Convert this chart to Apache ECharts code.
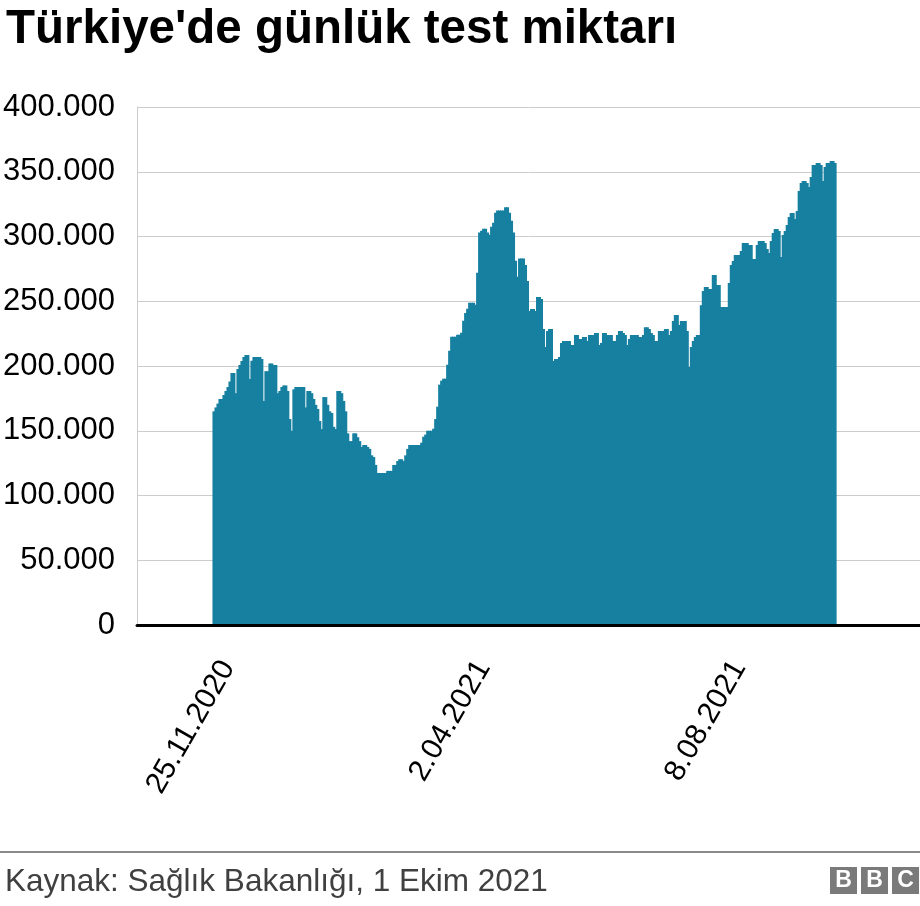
<!DOCTYPE html>
<html>
<head>
<meta charset="utf-8">
<script src="https://cdn.jsdelivr.net/npm/echarts@6/dist/echarts.min.js"></script>
<style>
html,body{margin:0;padding:0;background:#fff;}
#chart{width:920px;height:906px;}
</style>
</head>
<body>
<div id="chart"></div>
<script>
// ---- data (daily tests) ----
const firstDay = "2020-11-18";          // first bar
const padBefore = 38;                   // empty days drawn before the first bar
const padAfter = 42;                    // empty days drawn after the last bar
const tickLabels = ["25.11.2020", "2.04.2021", "8.08.2021"];
const yTicks = [0, 50000, 100000, 150000, 200000, 250000, 300000, 350000, 400000];

const testsNovJan = [165000, 168000, 171000, 174500, 174500, 177600, 180700, 183800, 188000, 194600, 194600, 179000, 197700, 200800, 203900, 207000, 208500, 208500, 190000, 204000, 207000, 207000, 207000, 207000, 205400, 173000, 196000, 196000, 202000, 202000, 200800, 200800, 179000, 180700, 183800, 185000, 185000, 180700, 159000, 150000, 182000, 183800, 183800, 183800, 183800, 183800, 168000, 180700, 180700, 179000, 174500];
const testsJanFeb = [170000, 166800, 157500, 151300, 176000, 176000, 170000, 165000, 163700, 153000, 151300, 180700, 180700, 179000, 173000, 165000, 148000, 142000, 142000, 148000, 148000, 145000, 142000, 137500, 139000, 139000, 137500, 136000, 131000, 129700, 123600, 117400, 117400, 117400, 117400, 117400, 119000, 119000, 119000, 123600, 123600, 126600, 128000, 128000, 126600, 131000, 136000, 139000, 139000, 139000, 139000, 139000, 139000];
const testsMarApr = [140800, 145400, 147000, 150000, 150000, 150000, 151600, 159000, 168600, 185600, 188700, 190200, 190200, 201000, 211800, 222600, 222600, 222600, 224200, 224200, 225700, 235000, 241000, 244300, 248900, 248900, 248900, 247300, 272000, 303000, 304500, 306000, 306000, 303000, 301400, 307600, 310700, 318400, 320000, 320000, 320000, 320000, 322500, 322500, 318400, 312200, 303000, 281300, 269000];
const testsMayJun = [283000, 283000, 283000, 278000, 265600, 242500, 244000, 244000, 242500, 253300, 253300, 251700, 228600, 214700, 227000, 228600, 228600, 203900, 205400, 205400, 207000, 217800, 219300, 219300, 219300, 219300, 216200, 216200, 224000, 224000, 220800, 220800, 222400, 222400, 219300, 224000, 224000, 224000, 225500, 225500, 216200, 217800, 225500, 225500, 224000, 224000, 224000, 219300, 219300, 224000, 227000, 227000, 225500];
const testsJulAug = [224000, 216200, 220800, 224000, 224000, 224000, 224000, 222400, 222400, 224000, 230000, 230000, 228600, 225500, 224000, 219300, 219300, 227000, 227000, 227000, 228600, 228600, 224000, 227000, 234800, 239400, 239400, 231700, 234800, 234800, 234800, 227000, 199200, 214700, 219300, 222400, 224000, 224000, 247000, 258000, 261000, 261000, 259500, 259500, 270300, 270300, 262500, 262500, 245600, 245600, 245600, 245600, 264000, 278000, 281000];
const testsAugSep = [285700, 285700, 285700, 288800, 295000, 295000, 295000, 293400, 293400, 282600, 282600, 293400, 296500, 296500, 296500, 295000, 290300, 287300, 296500, 302700, 305800, 305800, 304200, 284200, 301200, 304200, 308900, 315000, 318200, 318200, 313500, 319700, 335100, 341300, 342900, 342900, 341300, 338200, 346000, 355200, 355200, 356800, 356800, 355200, 342900, 353700, 356800, 356800, 358300, 358300, 356800];

// ---- build category axis (dates) and series ----
const values = [].concat(testsNovJan, testsJanFeb, testsMarApr, testsMayJun, testsJulAug, testsAugSep);
function fmt(d) {
  const dd = d.getUTCDate();
  const mm = String(d.getUTCMonth() + 1).padStart(2, "0");
  return dd + "." + mm + "." + d.getUTCFullYear();
}
const start = new Date(firstDay + "T00:00:00Z");
const categories = [];
const seriesData = [];
const total = padBefore + values.length + padAfter;
for (let i = 0; i < total; i++) {
  const d = new Date(start.getTime() + (i - padBefore) * 86400000);
  categories.push(fmt(d));
  const k = i - padBefore;
  seriesData.push(k >= 0 && k < values.length ? values[k] : null);
}

const FONT = "'Liberation Sans', Arial, Helvetica, sans-serif";
const chart = echarts.init(document.getElementById("chart"), null, { renderer: "canvas" });
chart.setOption({
  animation: false,
  backgroundColor: "#ffffff",
  title: {
    text: "Türkiye'de günlük test miktarı",
    left: 1,
    top: 1,
    textStyle: { fontFamily: FONT, fontSize: 47.5, fontWeight: "bold", color: "#000000" }
  },
  grid: { left: 137, right: -1, top: 107, bottom: 281, containLabel: false },
  xAxis: {
    type: "category",
    data: categories,
    z: 10,
    boundaryGap: true,
    axisLine: { show: true, lineStyle: { color: "#000000", width: 3 } },
    axisTick: { show: false },
    splitLine: { show: false },
    axisLabel: {
      interval: function (index, value) { return tickLabels.indexOf(value) >= 0; },
      rotate: 60,
      margin: 38,
      fontFamily: FONT,
      fontSize: 30,
      color: "#000000"
    }
  },
  yAxis: {
    type: "value",
    min: 0,
    max: 400000,
    interval: 50000,
    axisLine: { show: true, lineStyle: { color: "#cccccc", width: 1 } },
    axisTick: { show: false },
    splitLine: { show: true, lineStyle: { color: "#cccccc", width: 1 } },
    axisLabel: {
      margin: 22,
      fontFamily: FONT,
      fontSize: 31,
      color: "#000000",
      formatter: function (v) {
        if (yTicks.indexOf(v) < 0) return "";
        return v === 0 ? "0" : (v / 1000) + ".000";
      }
    }
  },
  series: [{
    type: "bar",
    data: seriesData,
    barWidth: 3,
    itemStyle: { color: "#1780A1" }
  }],
  graphic: [
    { type: "line", shape: { x1: 0, y1: 852, x2: 920, y2: 852 }, style: { stroke: "#8a8a8a", lineWidth: 2 } },
    { type: "text", left: 5, top: 866, style: { text: "Kaynak: Sağlık Bakanlığı, 1 Ekim 2021", font: "31.5px " + FONT, fill: "#404040" } },
    { type: "rect", shape: { x: 830, y: 867, width: 27, height: 27 }, style: { fill: "#7a7a7a" } },
    { type: "rect", shape: { x: 861, y: 867, width: 27, height: 27 }, style: { fill: "#7a7a7a" } },
    { type: "rect", shape: { x: 892, y: 867, width: 27, height: 27 }, style: { fill: "#7a7a7a" } },
    { type: "text", x: 843.5, y: 881, style: { text: "B", font: "bold 23px " + FONT, fill: "#ffffff", align: "center", verticalAlign: "middle" } },
    { type: "text", x: 874.5, y: 881, style: { text: "B", font: "bold 23px " + FONT, fill: "#ffffff", align: "center", verticalAlign: "middle" } },
    { type: "text", x: 905.5, y: 881, style: { text: "C", font: "bold 23px " + FONT, fill: "#ffffff", align: "center", verticalAlign: "middle" } }
  ]
});
</script>
</body>
</html>
